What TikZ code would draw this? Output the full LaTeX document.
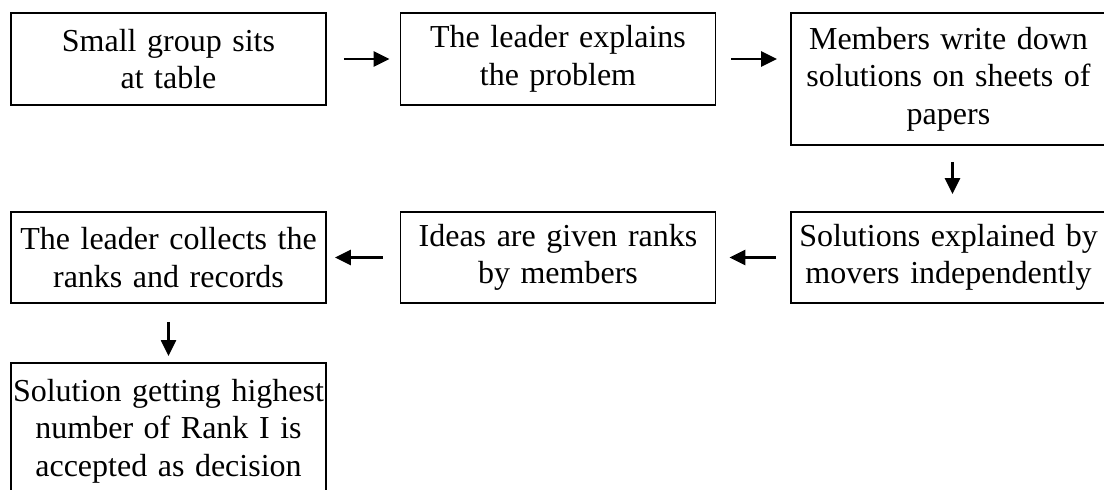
\documentclass[tikz,border=0pt]{standalone}
\usepackage{fontspec}
\setmainfont{Liberation Serif}
\usetikzlibrary{arrows.meta}
\newcommand\widewordspace{\spaceskip=0.33em plus 0.1em\relax}
\begin{document}
\begin{tikzpicture}[x=1pt,y=-1pt,
  stepbox/.style={draw, line width=1.8pt, rectangle, align=center, inner sep=0pt,
    minimum width=315pt, font=\fontsize{32}{37.5}\selectfont,
    execute at begin node=\widewordspace},
  flow/.style={line width=2.6pt, -{Triangle[length=16pt,width=15pt]}}]
\useasboundingbox (0,0) rectangle (1104,490);
\clip (0,0) rectangle (1104,490);

% first row
\node[stepbox, minimum height=92pt] (n1) at (168.5,59) {Small group sits\\at table};
\node[stepbox, minimum height=92pt] (n2) at (558,59) {The leader explains\\the problem};
\node[stepbox, minimum height=132pt] (n3) at (948.5,79) {Members write down\\solutions on sheets of\\papers};

% second row
\node[stepbox, minimum height=91pt] (n4) at (168.5,257.5) {The leader collects the\\ranks and records};
\node[stepbox, minimum height=91pt] (n5) at (558,257.5) {Ideas are given ranks\\by members};
\node[stepbox, minimum height=91pt] (n6) at (948.5,257.5) {Solutions explained by\\movers independently};

% final box, running off the bottom edge
\node[stepbox, minimum height=136pt, anchor=north] (n7) at (168.5,362)
  {Solution getting highest\\number of Rank I is\\accepted as decision};

% connectors
\draw[flow] ([xshift=17pt]n1.east) -- ([xshift=-10pt]n2.west);
\draw[flow] ([xshift=15pt]n2.east) -- ([xshift=-13pt]n2.east -| n3.west);
\draw[flow] ([xshift=4pt,yshift=-16pt]n3.south) -- ([xshift=4pt,yshift=17pt]n6.north);
\draw[flow] ([xshift=-14pt]n6.west) -- ([xshift=13pt]n5.east);
\draw[flow] ([xshift=-17pt]n5.west) -- ([xshift=8pt]n4.east);
\draw[flow] ([yshift=-18pt]n4.south) -- ([yshift=6pt]n7.north);
\end{tikzpicture}
\end{document}
